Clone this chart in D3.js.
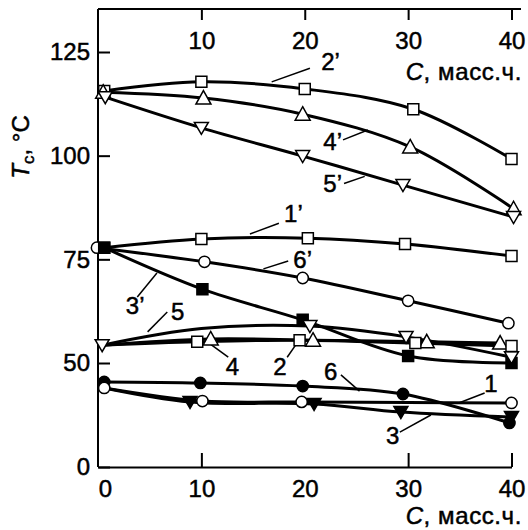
<!DOCTYPE html>
<html>
<head>
<meta charset="utf-8">
<script src="https://cdn.jsdelivr.net/npm/d3@7"></script>
<style>
  body { margin: 0; background: #fff; }
  svg { display: block; font-family: "Liberation Sans", Arial, sans-serif; }
  text { stroke: #000; stroke-width: 0.5px; }
</style>
</head>
<body>
<svg id="chart" width="528" height="530"></svg>
<script>
// C, масс.ч. (x) and Tc, °C (y)
const xTicks = [0, 10, 20, 30, 40]
const yTicks = [0, 50, 75, 100, 125]

// each curve: name, marker, x, y, marker indexes left out
const series = [
  { name: "2'", mark: 'square', fill: false, x: [0.6, 10, 20, 30.5, 40], y: [115.6, 117.8, 116.1, 111.2, 99.2], skip: [] },
  { name: "4'", mark: 'up', fill: false, x: [0.5, 10.2, 19.8, 30.2, 40.2], y: [115.3, 113.9, 110.0, 102.1, 87.2], skip: [] },
  { name: "5'", mark: 'down', fill: false, x: [0.7, 10, 19.8, 29.5, 40.2], y: [114.1, 106.7, 99.9, 92.9, 85.2], skip: [] },
  { name: "1'", mark: 'square', fill: false, x: [0.6, 10, 20.3, 29.7, 40], y: [77.8, 79.9, 80.1, 78.7, 75.8], skip: [] },
  { name: "6'", mark: 'circle', fill: false, x: [-0.1, 10.3, 19.8, 30, 39.7], y: [77.8, 74.4, 70.5, 65.0, 59.6], skip: [] },
  { name: "3'", mark: 'square', fill: true, x: [0.6, 10.1, 19.8, 30, 40], y: [77.8, 67.8, 60.4, 51.7, 50.0], skip: [] },
  { name: '5', mark: 'down', fill: false, x: [0.4, 10, 20.5, 29.8, 40], y: [54.3, 58.3, 58.9, 56.3, 51.4], skip: [1] },
  { name: '4', mark: 'up', fill: false, x: [0.4, 10.9, 20.8, 31.8, 38.9], y: [54.3, 55.8, 55.5, 55.1, 54.8], skip: [0] },
  { name: '2', mark: 'square', fill: false, x: [0.4, 9.6, 19.5, 30.7, 40], y: [54.3, 55.1, 55.5, 54.8, 54.1], skip: [0] },
  { name: '6', mark: 'circle', fill: true, x: [0.6, 9.9, 19.8, 29.5, 39.8], y: [40.9, 40.4, 38.9, 35.1, 21.2], skip: [] },
  { name: '1', mark: 'circle', fill: false, x: [0.6, 10.1, 19.7, 30, 40], y: [38.0, 31.7, 31.3, 31.0, 30.8], skip: [3] },
  { name: '3', mark: 'down', fill: true, x: [0.6, 8.9, 20.9, 29.3, 40], y: [38.0, 31.3, 30.3, 26.4, 24.0], skip: [0] }
]

// curve labels: text position and leader line, in data units
const labels = [
  { t: "2'", x: 22.5, y: 122.8, l: [20.5, 121.1, 16.8, 117.8] },
  { t: "4'", x: 22.7, y: 103.5, l: [23.7, 103.8, 26.1, 106.2] },
  { t: "5'", x: 22.7, y: 93.4, l: [23.8, 93.3, 25.8, 95.0] },
  { t: "1'", x: 18.9, y: 86.2, l: [17.5, 83.7, 14.7, 81.1] },
  { t: "6'", x: 19.8, y: 75.1, l: [16.0, 72.7, 18.4, 74.6] },
  { t: "3'", x: 3.6, y: 64.0, l: [3.8, 65.9, 5.7, 71.7] },
  { t: '5', x: 7.7, y: 62.5, l: [6.7, 62.3, 4.8, 57.5] },
  { t: '4', x: 13.0, y: 48.6, l: [10.9, 54.5, 12.6, 51.4] },
  { t: '2', x: 17.6, y: 48.6, l: [18.3, 51.4, 19.2, 54.6] },
  { t: '6', x: 22.5, y: 46.2, l: [23.5, 44.3, 25.3, 36.5] },
  { t: '1', x: 38.0, y: 40.0, l: [37.4, 35.6, 34.9, 30.8] },
  { t: '3', x: 28.5, y: 15.4, l: [29.2, 16.8, 32.2, 25.0] }
]

const width = 528
const height = 530
const font = 24

const x = d3.scaleLinear().domain([0, 40]).range([98, 511.5])
// the y axis jumps from 0 to 50 in one tick step
const y = d3.scaleLinear().domain([0, 50, 125]).range([467, 363, 52])

const svg = d3.select('#chart')

// left axis
const gy = svg.append('g')
  .attr('transform', `translate(${x(0)},0)`)
  .call(d3.axisLeft(y).tickValues(yTicks).tickSize(-12).tickSizeOuter(0).tickPadding(8))
gy.select('.domain').attr('d', `M0,${y(0)}V9`)

// bottom axis
const gx = svg.append('g')
  .attr('transform', `translate(0,${y(0)})`)
  .call(d3.axisBottom(x).tickValues(xTicks).tickSize(-14).tickSizeOuter(0).tickPadding(13))
gx.selectAll('.tick line').filter(d => d === 0 || d === 20).remove()
gx.selectAll('.tick').filter(d => d === 0).select('text').attr('x', 7)

// top axis, labels inside
const gt = svg.append('g')
  .attr('transform', 'translate(0,9)')
  .call(d3.axisTop(x).tickValues(xTicks.slice(1)).tickSize(-11).tickSizeOuter(0))
gt.select('.domain').attr('d', `M${x(0)},0H521`)
gt.selectAll('.tick text').attr('y', 23).attr('dy', '0.71em')

svg.selectAll('.domain, .tick line').attr('stroke', '#000').attr('stroke-width', 2)
svg.selectAll('.tick text')
  .attr('font-size', font)
  .attr('font-family', '"Liberation Sans", Arial, sans-serif')
  .attr('fill', '#000')
gy.attr('font-size', font)
gx.attr('font-size', font)
gt.attr('font-size', font)

// axis titles
const ttl = svg.append('text')
  .attr('transform', 'translate(29,147) rotate(-90)')
  .attr('text-anchor', 'middle')
  .attr('font-size', font)
ttl.append('tspan').attr('font-style', 'italic').text('T')
ttl.append('tspan').attr('font-size', 17).attr('dy', 5).text('c')
ttl.append('tspan').attr('dy', -5).text(', °C')

;[80, 524].forEach(yy => {
  const t = svg.append('text')
    .attr('x', 522).attr('y', yy)
    .attr('text-anchor', 'end')
    .attr('font-size', font)
    .attr('letter-spacing', 0.6)
  t.append('tspan').attr('font-style', 'italic').text('C')
  t.append('tspan').text(', масс.ч.')
})

// curves
const line = d3.line()
  .x(d => x(d[0]))
  .y(d => y(d[1]))
  .curve(d3.curveCatmullRom.alpha(0.5))

svg.append('g')
  .selectAll('path')
  .data(series)
  .join('path')
  .attr('fill', 'none')
  .attr('stroke', '#000')
  .attr('stroke-width', 3)
  .attr('d', s => line(s.x.map((v, i) => [v, s.y[i]])))

// leader lines and labels
svg.append('g')
  .selectAll('line')
  .data(labels)
  .join('line')
  .attr('x1', d => x(d.l[0])).attr('y1', d => y(d.l[1]))
  .attr('x2', d => x(d.l[2])).attr('y2', d => y(d.l[3]))
  .attr('stroke', '#000')
  .attr('stroke-width', 1.5)

svg.append('g')
  .selectAll('text')
  .data(labels)
  .join('text')
  .attr('x', d => x(d.x))
  .attr('y', d => y(d.y))
  .attr('dy', '0.36em')
  .attr('text-anchor', 'middle')
  .attr('font-size', font)
  .text(d => d.t.replace("'", '’'))

// markers
const symbol = {
  square: 'M-5.5,-5.5H5.5V5.5H-5.5Z',
  circle: d3.symbol(d3.symbolCircle, 100)(),
  up: 'M0,-7.5L7.5,6H-7.5Z',
  down: 'M0,6.5L-7,-5.5H7Z'
}

const pts = series.flatMap(s => s.x.map((v, i) => ({ x: v, y: s.y[i], mark: s.mark, fill: s.fill }))
  .filter((d, i) => !s.skip.includes(i)))

svg.append('g')
  .selectAll('path')
  .data(pts)
  .join('path')
  .attr('transform', d => `translate(${x(d.x)},${y(d.y)})`)
  .attr('d', d => symbol[d.mark])
  .attr('fill', d => d.fill ? '#000' : '#fff')
  .attr('stroke', '#000')
  .attr('stroke-width', 1.5)
</script>
</body>
</html>
